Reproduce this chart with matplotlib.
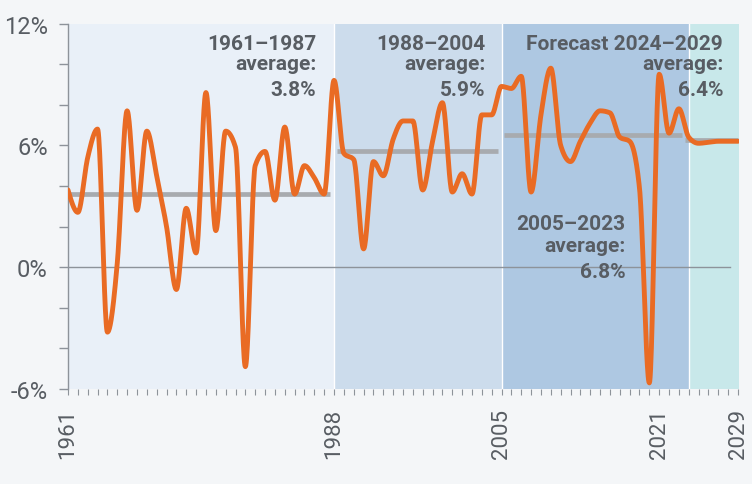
import numpy as np
import matplotlib
matplotlib.use("Agg")
import matplotlib.pyplot as plt

plt.rcParams['font.family'] = ['Roboto', 'DejaVu Sans']

# ---------------- data ----------------
years = list(range(1961, 2030))
growth = [3.8, 2.7, 5.4, 6.8, -3.2, 0.2, 7.7, 2.8, 6.7, 4.5,
          2.0, -1.1, 2.9, 0.7, 8.6, 1.8, 6.7, 5.9, -4.9, 5.0,
          5.7, 3.3, 6.9, 3.6, 5.0, 4.4, 3.6, 9.2, 5.6, 5.3,
          0.9, 5.2, 4.5, 6.3, 7.2, 7.2, 3.8, 6.2, 8.1, 3.7,
          4.6, 3.6, 7.5, 7.5, 8.9, 8.8, 9.4, 3.7, 7.5, 9.8,
          6.0, 5.2, 6.2, 7.1, 7.7, 7.6, 6.4, 6.2, 3.9, -5.7,
          9.5, 6.6, 7.8, 6.4, 6.1, 6.15, 6.2, 6.2, 6.2]

period_edges = [1961, 1988, 2005, 2024, 2029.1]
period_colors = ['#e9f0f8', '#ccdcec', '#aec8e2', '#c8e8ea']

avg_starts = [1961.0, 1988.3, 2005.2, 2023.6]
avg_ends = [1987.6, 2004.6, 2023.3, 2029.0]
avg_values = [3.6, 5.7, 6.5, 6.25]

label_lines = [["1961\u20131987", "average:", "3.8%"],
               ["1988\u20132004", "average:", "5.9%"],
               ["Forecast 2024\u20132029", "average:", "6.4%"],
               ["2005\u20132023", "average:", "6.8%"]]

ytick_vals = [-6, 0, 6, 12]
ytick_labels = ["-6%", "0%", "6%", "12%"]
xtick_vals = [1961, 1988, 2005, 2021, 2029]

# ---------------- smoothing (monotone cubic, like d3.curveMonotoneX) ----------------
def monotone(x, y, n=24):
    x = np.asarray(x, float); y = np.asarray(y, float)
    N = len(x)
    h = np.diff(x)
    s = np.diff(y) / h
    m = np.zeros(N)
    for i in range(1, N - 1):
        s0, s1 = s[i - 1], s[i]
        p = (s0 * h[i] + s1 * h[i - 1]) / (h[i - 1] + h[i])
        m[i] = (np.sign(s0) + np.sign(s1)) * min(abs(s0), abs(s1), 0.5 * abs(p))
    m[0] = (3 * s[0] - m[1]) / 2
    m[-1] = (3 * s[-1] - m[-2]) / 2
    t = np.linspace(0, 1, n, endpoint=False)
    h00 = 2 * t**3 - 3 * t**2 + 1
    h10 = t**3 - 2 * t**2 + t
    h01 = -2 * t**3 + 3 * t**2
    h11 = t**3 - t**2
    xs, ys = [], []
    for i in range(N - 1):
        xs.append(x[i] + t * h[i])
        ys.append(h00 * y[i] + h10 * h[i] * m[i] + h01 * y[i + 1] + h11 * h[i] * m[i + 1])
    xs.append([x[-1]]); ys.append([y[-1]])
    return np.concatenate(xs), np.concatenate(ys)

# ---------------- figure ----------------
bg = '#f4f6f8'
axis_gray = '#8d939a'
text_gray = '#585d63'

fig = plt.figure(figsize=(7.52, 4.85), dpi=100, facecolor=bg)
ax = fig.add_axes([68 / 752, 1 - 390 / 485, (739 - 68) / 752, (390 - 24.5) / 485])
ax.set_facecolor(bg)

ax.set_xlim(period_edges[0], period_edges[-1])
ax.set_ylim(-6, 12)

for i, c in enumerate(period_colors):
    ax.axvspan(period_edges[i], period_edges[i + 1], color=c, lw=0, zorder=0)
for e in period_edges[1:-1]:
    ax.axvline(e, color='white', lw=1.0, zorder=1)

ax.axhline(0, xmin=0, xmax=(730 - 68) / (739 - 68), color=axis_gray, lw=1.0, zorder=2)

for s, e, v in zip(avg_starts, avg_ends, avg_values):
    ax.plot([s, e], [v, v], color='#a8abaf', lw=3.4, solid_capstyle='butt', zorder=3)

sx, sy = monotone(years, growth)
ax.plot(sx, sy, color='#e96b24', lw=3.5, solid_capstyle='round',
        solid_joinstyle='round', zorder=4)

# labels
label_x = [1986.2, 2003.35, 2027.5, 2017.55]
label_y = [[10.75, 9.77, 8.49], [10.75, 9.77, 8.49], [10.75, 9.77, 8.49],
           [1.89, 0.78, -0.48]]
for lines, lx, lys in zip(label_lines, label_x, label_y):
    for txt, ly in zip(lines, lys):
        ax.text(lx, ly, txt, ha='right', va='baseline', fontsize=15,
                fontweight='bold', color=text_gray, zorder=5)

# spines and ticks
for sp in ['top', 'right', 'bottom']:
    ax.spines[sp].set_visible(False)
ax.spines['left'].set_color(axis_gray)
ax.spines['left'].set_linewidth(1.0)

ax.set_yticks(ytick_vals)
ax.set_yticklabels(ytick_labels)
ax.set_yticks(np.arange(-6, 13, 2), minor=True)
ax.tick_params(axis='y', which='both', length=6.5, width=1.0, color=axis_gray,
               labelsize=17, labelcolor=text_gray, pad=8)

ax.set_xticks(xtick_vals)
ax.set_xticklabels([str(v) for v in xtick_vals], rotation=90)
ax.set_xticks(years, minor=True)
ax.tick_params(axis='x', which='both', length=4.5, width=0.8, color=axis_gray,
               labelsize=16, labelcolor=text_gray, pad=9)

fig.savefig('out.png', dpi=100, facecolor=bg)
